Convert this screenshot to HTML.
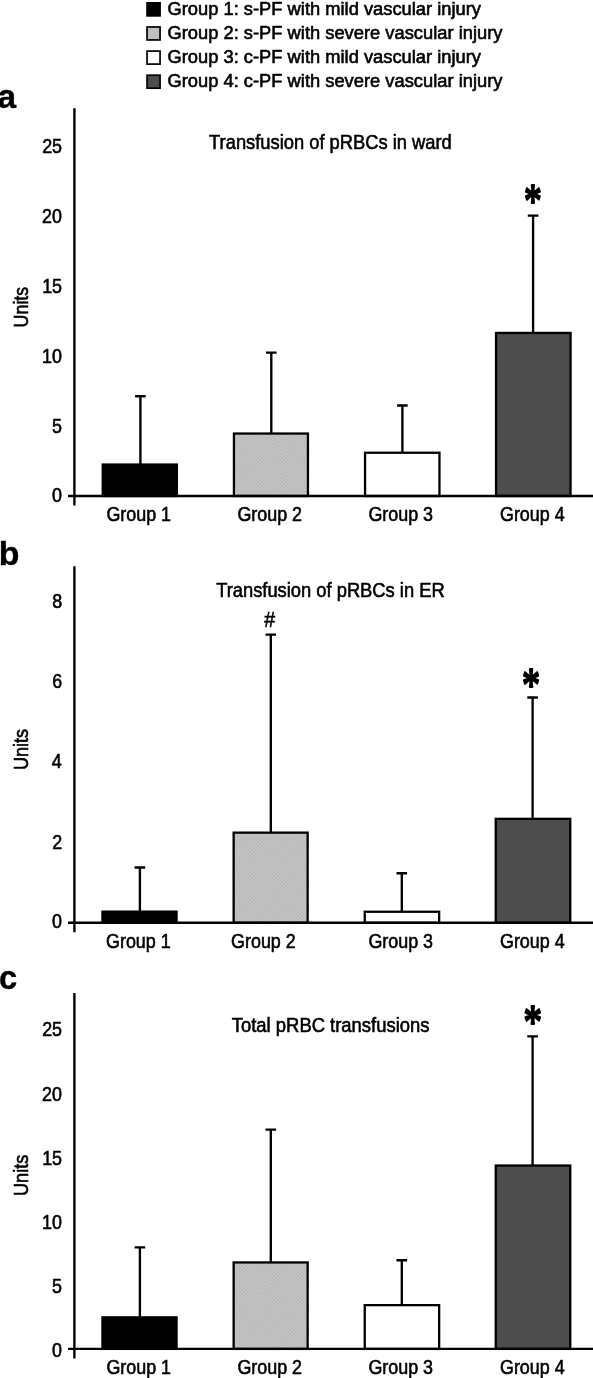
<!DOCTYPE html><html><head><meta charset="utf-8"><title>Figure</title>
<style>html,body{margin:0;padding:0;background:#fff}svg{display:block}text{font-family:"Liberation Sans",Arial,Helvetica,sans-serif;fill:#000;stroke:#000;stroke-width:.6px}.b{font-weight:bold;stroke-width:.4px}.s{font-family:"Liberation Serif","Times New Roman",serif;stroke-width:2.2px;stroke-linejoin:round}</style></head><body>
<svg width="593" height="1378" viewBox="0 0 593 1378">
<defs><pattern id="dots" width="2.6" height="2.6" patternUnits="userSpaceOnUse" patternTransform="rotate(40)"><rect width="2.6" height="2.6" fill="#c6c6c6"/><rect x=".3" y=".3" width="1" height="1" fill="#979797"/></pattern></defs>
<rect width="593" height="1378" fill="#fff"/>
<rect x="147.05" y="2.85" width="13.0" height="13.0" fill="#000" stroke="#000" stroke-width="1.7"/>
<text transform="matrix(0.9905 0 0 1 167.48 14.50)" font-size="18.50">Group 1: s-PF with mild vascular injury</text>
<rect x="147.05" y="26.95" width="13.0" height="13.0" fill="url(#dots)" stroke="#000" stroke-width="1.7"/>
<text transform="matrix(0.9905 0 0 1 167.48 38.50)" font-size="18.50">Group 2: s-PF with severe vascular injury</text>
<rect x="147.05" y="51.10" width="13.0" height="13.0" fill="#fff" stroke="#000" stroke-width="1.7"/>
<text transform="matrix(0.9905 0 0 1 167.48 62.60)" font-size="18.50">Group 3: c-PF with mild vascular injury</text>
<rect x="147.05" y="75.20" width="13.0" height="13.0" fill="#4d4d4d" stroke="#000" stroke-width="1.7"/>
<text transform="matrix(0.9905 0 0 1 167.48 86.60)" font-size="18.50">Group 4: c-PF with severe vascular injury</text>
<text class="b" transform="matrix(0.9893 0 0 1 -2.60 107.96)" font-size="33.79">a</text>
<text transform="matrix(0.9168 0 0 1 209.09 148.60)" font-size="20.00">Transfusion of pRBCs in ward</text>
<text transform="matrix(0 -0.8915 1 0 27.70 327.38)" font-size="20.00">Units</text>
<text transform="matrix(0.8950 0 0 1 42.15 152.68)" font-size="20.00">25</text>
<text transform="matrix(0.8950 0 0 1 42.10 222.68)" font-size="20.00">20</text>
<text transform="matrix(0.8950 0 0 1 42.15 292.68)" font-size="20.00">15</text>
<text transform="matrix(0.8950 0 0 1 42.10 362.68)" font-size="20.00">10</text>
<text transform="matrix(0.8950 0 0 1 52.08 432.68)" font-size="20.00">5</text>
<text transform="matrix(0.8950 0 0 1 52.04 501.88)" font-size="20.00">0</text>
<path d="M140.4 464.4V396.2M135.1 396.2H145.7" stroke="#000" stroke-width="2.35" fill="none"/>
<rect x="102.75" y="464.55" width="74.10" height="31.45" fill="#000" stroke="#000" stroke-width="2.3"/>
<path d="M271.3 433.4V352.6M266.0 352.6H276.6" stroke="#000" stroke-width="2.35" fill="none"/>
<rect x="233.95" y="433.55" width="74.00" height="62.45" fill="url(#dots)" stroke="#000" stroke-width="2.3"/>
<path d="M402.4 452.6V405.5M397.1 405.5H407.7" stroke="#000" stroke-width="2.35" fill="none"/>
<rect x="365.05" y="452.75" width="74.40" height="43.25" fill="#fff" stroke="#000" stroke-width="2.3"/>
<path d="M533.1 332.8V215.6M527.8 215.6H538.4" stroke="#000" stroke-width="2.35" fill="none"/>
<rect x="496.05" y="332.95" width="74.50" height="163.05" fill="#4d4d4d" stroke="#000" stroke-width="2.3"/>
<path d="M74.4 108.3V505.5M68.1 496.0H593" stroke="#000" stroke-width="2.4" fill="none"/>
<text transform="matrix(0.8950 0 0 1 106.41 520.70)" font-size="20.00">Group 1</text>
<text transform="matrix(0.8950 0 0 1 237.41 520.70)" font-size="20.00">Group 2</text>
<text transform="matrix(0.8950 0 0 1 368.41 520.70)" font-size="20.00">Group 3</text>
<text transform="matrix(0.8950 0 0 1 500.00 520.70)" font-size="20.00">Group 4</text>
<text class="s" transform="matrix(0.7208 0 0 1 523.92 216.66)" font-size="49.25">*</text>
<text class="b" transform="matrix(1.0327 0 0 1 -1.20 564.67)" font-size="32.79">b</text>
<text transform="matrix(0.9167 0 0 1 216.19 596.50)" font-size="20.00">Transfusion of pRBCs in ER</text>
<text transform="matrix(0 -0.9030 1 0 27.70 770.00)" font-size="20.00">Units</text>
<text transform="matrix(0.8950 0 0 1 52.13 608.28)" font-size="20.00">8</text>
<text transform="matrix(0.8950 0 0 1 52.13 688.38)" font-size="20.00">6</text>
<text transform="matrix(0.8950 0 0 1 51.86 768.48)" font-size="20.00">4</text>
<text transform="matrix(0.8950 0 0 1 52.26 848.58)" font-size="20.00">2</text>
<text transform="matrix(0.8950 0 0 1 52.04 928.48)" font-size="20.00">0</text>
<path d="M139.9 911.5V867.5M134.6 867.5H145.2" stroke="#000" stroke-width="2.35" fill="none"/>
<rect x="102.45" y="911.65" width="74.10" height="11.15" fill="#000" stroke="#000" stroke-width="2.3"/>
<path d="M270.8 832.5V634.6M265.5 634.6H276.1" stroke="#000" stroke-width="2.35" fill="none"/>
<rect x="233.65" y="832.65" width="74.00" height="90.15" fill="url(#dots)" stroke="#000" stroke-width="2.3"/>
<path d="M401.8 911.6V873.2M396.5 873.2H407.1" stroke="#000" stroke-width="2.35" fill="none"/>
<rect x="364.75" y="911.75" width="74.40" height="11.05" fill="#fff" stroke="#000" stroke-width="2.3"/>
<path d="M532.6 818.7V697.5M527.3 697.5H537.9" stroke="#000" stroke-width="2.35" fill="none"/>
<rect x="495.75" y="818.85" width="74.50" height="103.95" fill="#4d4d4d" stroke="#000" stroke-width="2.3"/>
<path d="M74.4 566.3V932.3M68.1 922.8H593" stroke="#000" stroke-width="2.4" fill="none"/>
<text transform="matrix(0.8950 0 0 1 106.01 947.50)" font-size="20.00">Group 1</text>
<text transform="matrix(0.8950 0 0 1 231.10 947.50)" font-size="20.00">Group 2</text>
<text transform="matrix(0.8950 0 0 1 368.41 947.50)" font-size="20.00">Group 3</text>
<text transform="matrix(0.8950 0 0 1 500.00 947.50)" font-size="20.00">Group 4</text>
<text transform="matrix(0.8925 0 0 1 264.20 626.90)" font-size="21.90">#</text>
<text class="s" transform="matrix(0.7484 0 0 1 521.99 700.63)" font-size="48.44">*</text>
<text class="b" transform="matrix(0.9652 0 0 1 -1.00 989.46)" font-size="33.79">c</text>
<text transform="matrix(0.9222 0 0 1 231.79 1032.40)" font-size="20.00">Total pRBC transfusions</text>
<text transform="matrix(0 -0.9076 1 0 27.70 1196.01)" font-size="20.00">Units</text>
<text transform="matrix(0.8950 0 0 1 42.15 1036.48)" font-size="20.00">25</text>
<text transform="matrix(0.8950 0 0 1 42.10 1100.58)" font-size="20.00">20</text>
<text transform="matrix(0.8950 0 0 1 42.15 1164.68)" font-size="20.00">15</text>
<text transform="matrix(0.8950 0 0 1 42.10 1228.78)" font-size="20.00">10</text>
<text transform="matrix(0.8950 0 0 1 52.08 1292.88)" font-size="20.00">5</text>
<text transform="matrix(0.8950 0 0 1 52.04 1356.98)" font-size="20.00">0</text>
<path d="M139.9 1317.2V1247.4M134.6 1247.4H145.2" stroke="#000" stroke-width="2.35" fill="none"/>
<rect x="102.45" y="1317.35" width="74.10" height="31.55" fill="#000" stroke="#000" stroke-width="2.3"/>
<path d="M270.8 1262.3V1129.6M265.5 1129.6H276.1" stroke="#000" stroke-width="2.35" fill="none"/>
<rect x="233.65" y="1262.45" width="74.00" height="86.45" fill="url(#dots)" stroke="#000" stroke-width="2.3"/>
<path d="M401.8 1305.0V1260.2M396.5 1260.2H407.1" stroke="#000" stroke-width="2.35" fill="none"/>
<rect x="364.75" y="1305.15" width="74.40" height="43.75" fill="#fff" stroke="#000" stroke-width="2.3"/>
<path d="M532.6 1165.4V1036.4M527.3 1036.4H537.9" stroke="#000" stroke-width="2.35" fill="none"/>
<rect x="495.75" y="1165.55" width="74.50" height="183.35" fill="#4d4d4d" stroke="#000" stroke-width="2.3"/>
<path d="M74.4 993.0V1358.4M68.1 1348.9H593" stroke="#000" stroke-width="2.4" fill="none"/>
<text transform="matrix(0.8950 0 0 1 106.41 1373.60)" font-size="20.00">Group 1</text>
<text transform="matrix(0.8950 0 0 1 237.41 1373.60)" font-size="20.00">Group 2</text>
<text transform="matrix(0.8950 0 0 1 368.41 1373.60)" font-size="20.00">Group 3</text>
<text transform="matrix(0.8950 0 0 1 500.00 1373.60)" font-size="20.00">Group 4</text>
<text class="s" transform="matrix(0.7770 0 0 1 523.45 1037.69)" font-size="47.62">*</text>
</svg></body></html>
